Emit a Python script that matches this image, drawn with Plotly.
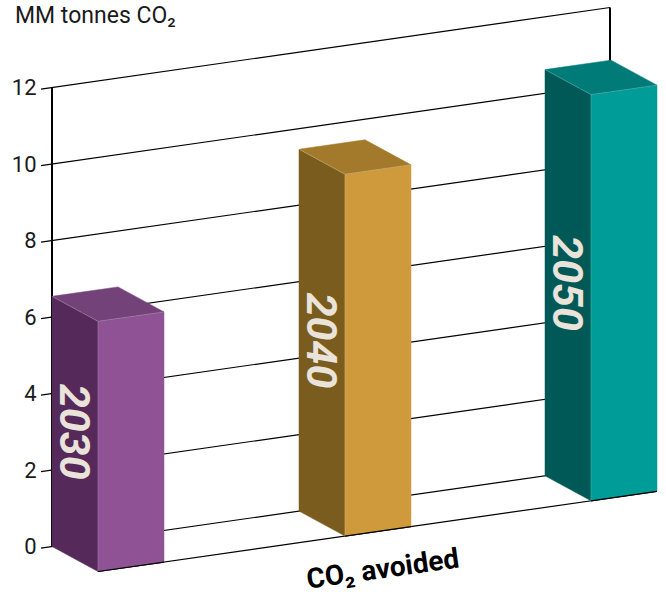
import plotly.graph_objects as go

# Data
years = ["2030", "2040", "2050"]
co2_avoided = [6.54, 9.46, 10.62]
bar_offset = [0, 247, 493]
tick_values = [0, 2, 4, 6, 8, 10, 12]
front_colors = ["#8f5395", "#cf9a3c", "#009c97"]
side_colors = ["#552a5a", "#7a5c1e", "#005956"]
top_colors = ["#724278", "#a37a2c", "#007b77"]

# Oblique projection of the chart's box
PX_PER_UNIT = 38.25
SPAN = 558
RISE = 80 / PX_PER_UNIT / SPAN
DEPTH_X = 46
DEPTH_Y = 25 / PX_PER_UNIT
BAR_W = 66
STUB = -11
LEFT = 52


def proj(u, h, d=0):
    return u + d * DEPTH_X, h + u * RISE - d * DEPTH_Y


def poly(points, color, name):
    xs, ys = zip(*[proj(*p) for p in points + points[:1]])
    return go.Scatter(x=list(xs), y=list(ys), mode="lines", fill="toself", fillcolor=color,
                      line=dict(color=color, width=0.5), hoverinfo="skip", showlegend=False, name=name)


def seg(points, color="#000000", width=1.2, name="line"):
    xs, ys = zip(*[proj(*p) for p in points])
    return go.Scatter(x=list(xs), y=list(ys), mode="lines", line=dict(color=color, width=width),
                      hoverinfo="skip", showlegend=False, name=name)


fig = go.Figure()
for v in tick_values:
    fig.add_trace(seg([(STUB, v), (SPAN, v)], name=f"grid {v}"))
fig.add_trace(seg([(0, 0), (0, tick_values[-1])], width=2, name="left wall"))
fig.add_trace(seg([(SPAN, 0), (SPAN, tick_values[-1])], width=2, name="right wall"))
fig.add_trace(seg([(0, 0, 1), (SPAN, 0, 1)], name="floor front"))

for i, yr in enumerate(years):
    u, w, h = bar_offset[i], BAR_W, co2_avoided[i]
    fig.add_trace(poly([(u, 0, 0), (u, 0, 1), (u, h, 1), (u, h, 0)], side_colors[i], yr + " side"))
    fig.add_trace(poly([(u, 0, 1), (u + w, 0, 1), (u + w, h, 1), (u, h, 1)], front_colors[i], yr + " front"))
    fig.add_trace(poly([(u, h, 0), (u, h, 1), (u + w, h, 1), (u + w, h, 0)], top_colors[i], yr + " top"))
    fig.add_trace(seg([(u, h, 0), (u, h, 1), (u + w, h, 1)], "rgba(255,255,255,0.35)", 0.6, yr + " edge"))
    fig.add_trace(seg([(u, h, 1), (u, 0, 1)], "rgba(255,255,255,0.25)", 0.6, yr + " edge"))
    fig.add_trace(seg([(u, 0, 1), (u + w, 0, 1)], name=yr + " base"))
    tx, ty = proj(u, h / 2, 0.5)
    fig.add_annotation(x=tx, y=ty, xref="x", yref="y", yshift=2, text=yr, textangle=90, showarrow=False,
                       font=dict(family="Roboto", size=43, color="#e9e3da", weight="bold", style="italic"))

lx, ly = proj(285, -1.0, 1)
fig.add_annotation(x=lx, y=ly, xref="x", yref="y", text="CO₂ avoided", textangle=-8, borderpad=0,
                   showarrow=False, font=dict(family="Roboto", size=28, color="#000000", weight="bold"))
fig.add_annotation(x=14 / 666, xref="paper", xanchor="left", y=1, yref="paper", yanchor="top", yshift=-1,
                   text="MM tonnes CO₂", showarrow=False, align="left", borderpad=0,
                   font=dict(family="Roboto", size=23, color="#1a1a1a"))

fig.update_layout(
    width=666, height=592, margin=dict(l=0, r=0, t=0, b=0), autosize=False,
    paper_bgcolor="white", plot_bgcolor="white", showlegend=False,
    xaxis=dict(range=[-LEFT, 614], visible=False, fixedrange=True),
    yaxis=dict(range=[-45.5 / PX_PER_UNIT, 546.5 / PX_PER_UNIT], tickvals=tick_values,
               ticktext=[str(v) for v in tick_values], showgrid=False, zeroline=False, showline=False,
               anchor="free", position=LEFT / 666,
               ticks="outside", ticklen=11, tickcolor="rgba(0,0,0,0)", tickwidth=1,
               tickfont=dict(family="Roboto", size=22, color="#1a1a1a"), fixedrange=True),
)
fig.write_html("out.html", config={"displayModeBar": False},
               post_script="document.body.style.margin='0';")
